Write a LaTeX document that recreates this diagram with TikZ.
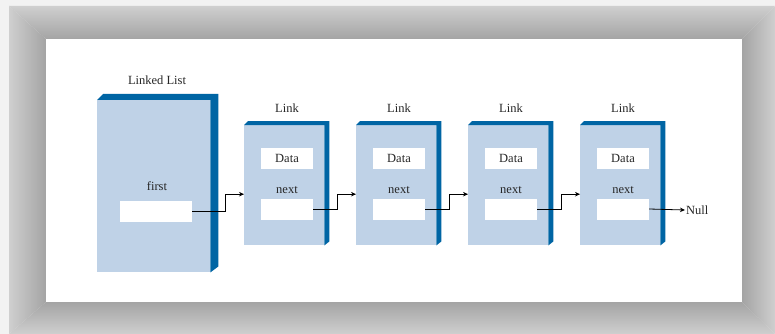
\documentclass[tikz,border=0pt]{standalone}
\usepackage{fontspec}
\setmainfont{Liberation Serif}
\usetikzlibrary{arrows.meta}
\definecolor{face}{HTML}{BFD2E7}
\definecolor{edge}{HTML}{0065A4}
\definecolor{fl}{HTML}{CFCFCF}
\definecolor{fd}{HTML}{A4A4A4}
\definecolor{txt}{HTML}{262626}
\definecolor{bg}{HTML}{F2F2F2}
\begin{document}
\begin{tikzpicture}[x=1pt,y=-1pt,
  font=\fontsize{12.5}{14}\selectfont, text=txt,
  facebox/.style={draw=none, fill=face, inner sep=0pt, anchor=north west},
  wbox/.style={draw=none, fill=white, inner sep=0pt, minimum width=52pt, minimum height=21pt},
  lab/.style={inner sep=1pt},
  conn/.style={draw=black, line width=0.8pt, -{Stealth[length=5pt,width=4.5pt]}}]
\useasboundingbox (0,0) rectangle (775,334);
\fill[bg] (0,0) rectangle (775,334);
% frame
\shade[top color=fl, bottom color=fd] (9,6) -- (775,6) -- (742,39) -- (46,39) -- cycle;
\shade[left color=fd, right color=fl] (775,6) -- (775,334) -- (742,302) -- (742,39) -- cycle;
\shade[top color=fd, bottom color=fl] (9,334) -- (775,334) -- (742,302) -- (46,302) -- cycle;
\shade[left color=fl, right color=fd] (9,6) -- (46,39) -- (46,302) -- (9,334) -- cycle;
\fill[white] (46,39) rectangle (742,302);
% linked list box
\node[facebox, minimum width=113pt, minimum height=172pt] (LL) at (97,100) {};
\fill[edge] (LL.north west) -- ++(6,-6) -- ([shift={(8,-6)}]LL.north east)
  -- ([shift={(8,-6)}]LL.south east) -- (LL.south east) -- (LL.north east) -- cycle;
\node[lab] (LLT) at (157,80) {Linked List};
\node[lab] (FT) at (157,186) {first};
\node[wbox, minimum width=72pt] (F) at (156,211.5) {};
% links
\foreach \i in {1,...,4}{
  \pgfmathsetmacro\xo{244+112*(\i-1)}
  \node[facebox, minimum width=80pt, minimum height=120pt] (L\i) at (\xo,125) {};
  \fill[edge] (L\i.north west) -- ++(4,-4) -- ([shift={(5,-4)}]L\i.north east)
    -- ([shift={(5,-4)}]L\i.south east) -- (L\i.south east) -- (L\i.north east) -- cycle;
  \node[lab] (T\i) at (\xo+43,108) {Link};
  \node[wbox] (D\i) at (\xo+43,158.5) {Data};
  \node[lab] (X\i) at (\xo+43,190) {next};
  \node[wbox] (N\i) at (\xo+43,209) {};
}
\node[lab, anchor=west] (Null) at (685,210) {Null};
% connectors
\draw[conn] (F.east) -- ++(33,0) |- ([yshift=-9pt]L1.west);
\foreach \i/\j in {1/2,2/3,3/4}{
  \draw[conn] (N\i.east) -- ++(24,0) |- ([yshift=-9pt]L\j.west);
}
\draw[conn] (N4.east) -- (Null.west);
\end{tikzpicture}
\end{document}
